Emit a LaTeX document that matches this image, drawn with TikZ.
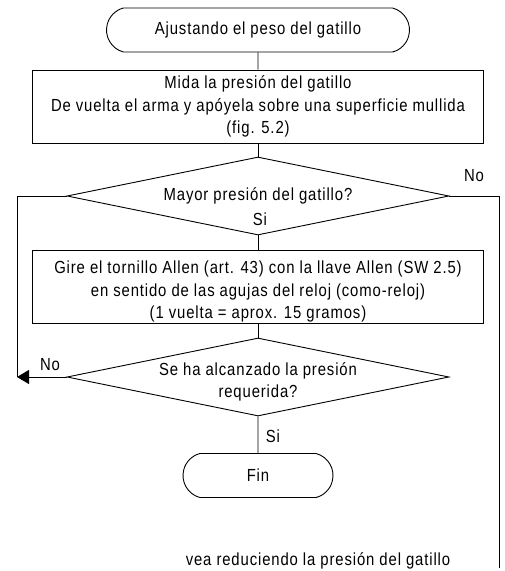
\documentclass[tikz,border=0pt]{standalone}
\usepackage{fontspec}
\setmainfont{Liberation Sans}[FakeStretch=0.85,LetterSpace=5]
\usetikzlibrary{shapes.geometric,shapes.misc,arrows.meta}

% Espace au-dessus de la premiere ligne
\def\marge{\rule{0pt}{23pt}}

\begin{document}
\begin{tikzpicture}[x=1pt,y=-1pt,line width=0.9pt,
  every node/.style={font=\fontsize{17.5}{22.5}\selectfont,inner sep=0pt},
  terminal/.style={draw,rounded rectangle,rounded rectangle arc length=150,
    minimum width=#1,minimum height=44pt},
  boite/.style={draw,align=center,minimum width=451pt,minimum height=73pt},
  losange/.style={draw,diamond,aspect=4.9,align=center,inner ysep=-8pt,
    minimum width=382pt,minimum height=78pt},
  fleche/.style={-{Triangle[length=12pt,width=14pt]}}]

\useasboundingbox (0,0) rectangle (505,571);

% Debut
\node[terminal=303pt] (debut) at (258,30) {Ajustando el peso del gatillo};

% Mesure
\node[boite] (mesure) at (258,106.5) {Mida la presión del gatillo\\
  De vuelta el arma y apóyela sobre una superficie mullida\\(fig. 5.2)};

% Premier test
\node[losange] (test1) at (258,196) {Mayor presión del gatillo?};
\node (si1) at (260,219) {Si};
\node (non1) at (474,176) {No};

% Reglage
\node[boite] (reglage) at (258,286.5) {\marge Gire el tornillo Allen (art. 43) con la llave Allen (SW 2.5)\\
  en sentido de las agujas del reloj (como-reloj)\\(1 vuelta = aprox. 15 gramos)};

% Second test
\node[losange] (test2) at (258,377) {\marge Se ha alcanzado la presión\\requerida?};
\node (non2) at (50,365) {No};
\node (si2) at (273,436) {Si};

% Fin
\node[terminal=150pt] (fin) at (258,475.5) {Fin};

% Note
\node (note) at (318,561) {vea reduciendo la presión del gatillo};

% Liaisons
\draw (debut) -- (mesure);
\draw (mesure) -- (test1);
\draw (test1) -- (reglage);
\draw (reglage) -- (test2);
\draw (test2) -- (fin);

% Boucles
\coordinate (retour) at (17,377);
\coordinate (sortie) at (499,568);
\draw (test1.west) -| (retour);
\draw[fleche] (test2.west) -- (retour);
\draw (test1.east) -| (sortie);
\end{tikzpicture}
\end{document}
